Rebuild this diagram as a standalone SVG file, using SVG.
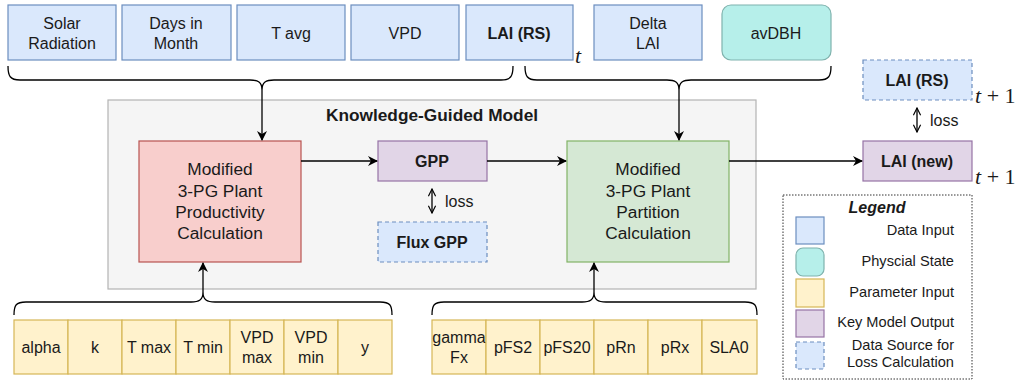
<svg xmlns="http://www.w3.org/2000/svg" width="1020" height="383" viewBox="0 0 1020 383">
<style>
text{font-family:"Liberation Sans",Arial,sans-serif;fill:#1a1a1a;}
.t16{font-size:16px;text-anchor:middle;}
.t17{font-size:17.3px;text-anchor:middle;}
.b{font-weight:bold;}
.data{fill:#dae8fc;stroke:#6c8ebf;stroke-width:1.2;}
.loss{fill:#dae8fc;stroke:#6c8ebf;stroke-width:1.2;stroke-dasharray:4 3;}
.phys{fill:#b6efea;stroke:#7fb2ad;stroke-width:1.2;}
.param{fill:#fff2cc;stroke:#d6b656;stroke-width:1.2;}
.out{fill:#e1d5e7;stroke:#9673a6;stroke-width:1.2;}
.red{fill:#f8cecc;stroke:#b85450;stroke-width:1.2;}
.green{fill:#d5e8d4;stroke:#82b366;stroke-width:1.2;}
.edge{fill:none;stroke:#000;stroke-width:1.3;}
.math{font-family:"Liberation Serif","Times New Roman",serif;font-size:22px;}
.leg{font-size:14.6px;text-anchor:end;}
</style>
<defs>
<marker id="ah" viewBox="0 0 10 10" refX="9" refY="5" markerWidth="10" markerHeight="10" markerUnits="userSpaceOnUse" orient="auto-start-reverse">
<path d="M0,0 L10,5 L0,10 L3,5 Z" fill="#000"/>
</marker>
<marker id="oh" viewBox="0 0 10 10" refX="9" refY="5" markerWidth="9" markerHeight="9" markerUnits="userSpaceOnUse" orient="auto-start-reverse">
<path d="M1,1 L9,5 L1,9" fill="none" stroke="#000" stroke-width="1.3"/>
</marker>
</defs>

<g id="container">
<rect x="108" y="100" width="648" height="189" fill="#f5f5f5" stroke="#b3b3b3" stroke-width="1.2"/>
<text x="432" y="121" class="t17 b">Knowledge-Guided Model</text>
</g>

<g id="top-inputs">
<g id="solar"><rect class="data" x="8" y="5" width="108" height="55"/><text class="t16" x="62" y="28.5">Solar</text><text class="t16" x="62" y="48.5">Radiation</text></g>
<g id="days"><rect class="data" x="122" y="5" width="109" height="55"/><text class="t16" x="176" y="28.5">Days in</text><text class="t16" x="176" y="48.5">Month</text></g>
<g id="tavg"><rect class="data" x="237" y="5" width="108" height="55"/><text class="t16" x="291" y="38.5">T avg</text></g>
<g id="vpd"><rect class="data" x="351" y="5" width="108" height="55"/><text class="t16" x="405" y="38.5">VPD</text></g>
<g id="lairs"><rect class="data" x="466" y="5" width="107" height="55"/><text class="t16 b" x="519" y="38.5">LAI (RS)</text></g>
<g id="deltalai"><rect class="data" x="594" y="5" width="108" height="55"/><text class="t16" x="648" y="28.5">Delta</text><text class="t16" x="648" y="48.5">LAI</text></g>
<g id="avdbh"><rect class="phys" x="722" y="5" width="109" height="55" rx="9"/><text class="t16" x="776" y="38.5">avDBH</text></g>
</g>
<text class="math" x="575" y="63" font-style="italic">t</text>

<g id="prod"><rect class="red" x="139" y="141" width="162" height="121"/>
<text class="t17" x="220" y="175">Modified</text><text class="t17" x="220" y="196.5">3-PG Plant</text><text class="t17" x="220" y="218">Productivity</text><text class="t17" x="220" y="239">Calculation</text></g>

<g id="gpp"><rect class="out" x="378" y="141" width="109" height="40"/><text class="t16 b" x="432" y="166.5">GPP</text></g>
<g id="fluxgpp"><rect class="loss" x="378" y="222" width="109" height="40"/><text class="t16 b" x="432" y="247.5">Flux GPP</text></g>

<g id="part"><rect class="green" x="567" y="141" width="162" height="121"/>
<text class="t17" x="648" y="175">Modified</text><text class="t17" x="648" y="196.5">3-PG Plant</text><text class="t17" x="648" y="218">Partition</text><text class="t17" x="648" y="239">Calculation</text></g>

<g id="lainew"><rect class="out" x="863" y="141" width="109" height="40"/><text class="t16 b" x="917" y="166.5">LAI (new)</text></g>
<g id="lairs2"><rect class="loss" x="863" y="60" width="109" height="40"/><text class="t16 b" x="917" y="85.5">LAI (RS)</text></g>
<text class="math" x="975" y="103"><tspan font-style="italic">t</tspan> + 1</text>
<text class="math" x="975" y="184"><tspan font-style="italic">t</tspan> + 1</text>

<g id="params1">
<rect class="param" x="14" y="320" width="54" height="54"/><text class="t16" x="41" y="352.5">alpha</text>
<rect class="param" x="68" y="320" width="54" height="54"/><text class="t16" x="95" y="352.5">k</text>
<rect class="param" x="122" y="320" width="54" height="54"/><text class="t16" x="149" y="352.5">T max</text>
<rect class="param" x="176" y="320" width="54" height="54"/><text class="t16" x="203" y="352.5">T min</text>
<rect class="param" x="230" y="320" width="54" height="54"/><text class="t16" x="257" y="342.5">VPD</text><text class="t16" x="257" y="362.5">max</text>
<rect class="param" x="284" y="320" width="54" height="54"/><text class="t16" x="311" y="342.5">VPD</text><text class="t16" x="311" y="362.5">min</text>
<rect class="param" x="338" y="320" width="54" height="54"/><text class="t16" x="365" y="352.5">y</text>
</g>
<g id="params2">
<rect class="param" x="432" y="320" width="54" height="54"/><text class="t16" x="459" y="342.5">gamma</text><text class="t16" x="459" y="362.5">Fx</text>
<rect class="param" x="486" y="320" width="54" height="54"/><text class="t16" x="513" y="352.5">pFS2</text>
<rect class="param" x="540" y="320" width="54" height="54"/><text class="t16" x="567" y="352.5">pFS20</text>
<rect class="param" x="594" y="320" width="54" height="54"/><text class="t16" x="621" y="352.5">pRn</text>
<rect class="param" x="648" y="320" width="54" height="54"/><text class="t16" x="675" y="352.5">pRx</text>
<rect class="param" x="702" y="320" width="55" height="54"/><text class="t16" x="729" y="352.5">SLA0</text>
</g>

<g id="connectors">
<path class="edge" d="M8,66 C8,76 10,80 20,80 L250,80 C258,80 262,82 262,90 C262,82 266,80 274,80 L501,80 C511,80 513,76 513,66"/>
<path class="edge" d="M262,90 L262,140" marker-end="url(#ah)"/>
<path class="edge" d="M525,66 C525,76 527,80 537,80 L667,80 C675,80 679,82 679,90 C679,82 683,80 691,80 L819,80 C829,80 831,76 831,66"/>
<path class="edge" d="M679,90 L679,140" marker-end="url(#ah)"/>
<path class="edge" d="M14,315 C14,305 16,302 26,302 L191,302 C199,302 203,300 203,292 C203,300 207,302 215,302 L380,302 C390,302 392,305 392,315"/>
<path class="edge" d="M203,292 L203,263" marker-end="url(#ah)"/>
<path class="edge" d="M432,315 C432,305 434,302 444,302 L582,302 C590,302 594,300 594,292 C594,300 598,302 606,302 L745,302 C755,302 757,305 757,315"/>
<path class="edge" d="M594,292 L594,263" marker-end="url(#ah)"/>
<path class="edge" d="M301,161 L377,161" marker-end="url(#ah)"/>
<path class="edge" d="M487,161 L566,161" marker-end="url(#ah)"/>
<path class="edge" d="M729,161 L862,161" marker-end="url(#ah)"/>
<path class="edge" d="M432,189 L432,213" marker-start="url(#oh)" marker-end="url(#oh)"/>
<text x="445" y="206.5" style="font-size:16px">loss</text>
<path class="edge" d="M917,108 L917,132" marker-start="url(#oh)" marker-end="url(#oh)"/>
<text x="930" y="125.5" style="font-size:16px">loss</text>
</g>

<g id="legend">
<rect x="783" y="195" width="189" height="184" fill="#fff" stroke="#333" stroke-width="1" stroke-dasharray="1.5 1.5"/>
<text x="877" y="213" style="font-size:16px;font-weight:bold;font-style:italic;text-anchor:middle">Legend</text>
<rect class="data" x="796" y="217" width="28" height="27"/><text class="leg" x="954" y="235">Data Input</text>
<rect class="phys" x="796" y="248" width="28" height="28" rx="7"/><text class="leg" x="954" y="266">Physcial State</text>
<rect class="param" x="796" y="279" width="28" height="28"/><text class="leg" x="954" y="297">Parameter Input</text>
<rect class="out" x="796" y="310" width="28" height="27"/><text class="leg" x="954" y="327">Key Model Output</text>
<rect class="loss" x="796" y="342" width="28" height="27"/><text class="leg" x="954" y="350">Data Source for</text><text class="leg" x="954" y="367">Loss Calculation</text>
</g>
</svg>
